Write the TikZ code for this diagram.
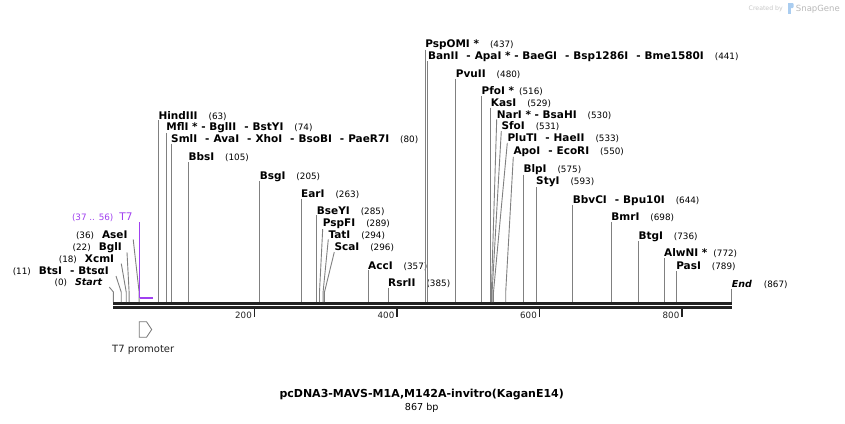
\documentclass[tikz,border=0pt]{standalone}
\usepackage{fontspec}
\setmainfont{DejaVu Sans}
\usetikzlibrary{positioning}

\definecolor{sitegray}{RGB}{128,128,128}
\definecolor{spinegray}{RGB}{34,34,34}
\definecolor{t7purple}{RGB}{160,64,240}
\definecolor{promgray}{RGB}{120,120,120}
\definecolor{markgray}{RGB}{200,200,200}
\definecolor{markblue}{RGB}{170,205,240}

\newcommand{\bpnum}[1]{{\fontsize{8.8}{10}\selectfont(#1)}}
\newcommand{\enz}[2]{\textbf{#1}\hspace{11pt}\bpnum{#2}}
\newcommand{\lenz}[2]{\bpnum{#1}\hspace{8pt}\textbf{#2}}
\newcommand{\dsh}{\hspace{8pt}-\hspace{4pt}}

\begin{document}
\begin{tikzpicture}[
  x=1pt, y=-1pt,
  rlab/.style={anchor=base west, inner sep=0pt, font=\fontsize{10.5}{12}\selectfont},
  llab/.style={anchor=base east, inner sep=0pt, font=\fontsize{10.5}{12}\selectfont},
  site/.style={draw=sitegray, line width=0.9pt},
  spine/.style={draw=spinegray, line width=3pt},
  ruler/.style={draw=spinegray, line width=1.8pt},
  rulerlab/.style={anchor=base east, inner sep=0pt, font=\fontsize{8.7}{10}\selectfont, text=spinegray},
  t7mark/.style={draw=t7purple, line width=1.2pt},
  promo/.style={draw=promgray, line width=0.8pt, fill=white},
]
\useasboundingbox (0,0) rectangle (845,423);
\fill[white] (0,0) rectangle (845,423);

% Backbone (0 .. 867 bp)
\draw[spine] (113.4,303.5) -- (731.7,303.5);
\draw[spine] (113.4,307.7) -- (731.7,307.7);

% Ruler ticks
\draw[ruler] (254.5,309) -- (254.5,316.5);
\draw[ruler] (397,309) -- (397,316.5);
\draw[ruler] (539.5,309) -- (539.5,316.5);
\draw[ruler] (682,309) -- (682,316.5);
\node[rulerlab] (r200) at (252,318) {200};
\node[rulerlab] (r400) at (394.5,318) {400};
\node[rulerlab] (r600) at (537,318) {600};
\node[rulerlab] (r800) at (679.5,318) {800};

% Cut positions on the backbone
\coordinate (p0) at (113.4,302);
\coordinate (p11) at (121.2,302);
\coordinate (p18) at (126.2,302);
\coordinate (p22) at (129.1,302);
\coordinate (p36) at (139.1,302);
\coordinate (p63) at (158.3,302);
\coordinate (p74) at (166.2,302);
\coordinate (p80) at (171,302);
\coordinate (p105) at (188.3,302);
\coordinate (p205) at (259.6,302);
\coordinate (p263) at (301,302);
\coordinate (p285) at (316.7,302);
\coordinate (p289) at (319.5,302);
\coordinate (p294) at (323.1,302);
\coordinate (p296) at (324.5,302);
\coordinate (p357) at (368,302);
\coordinate (p385) at (388,302);
\coordinate (p437) at (425.1,302);
\coordinate (p441) at (427.9,302);
\coordinate (p480) at (455.7,302);
\coordinate (p516) at (481.4,302);
\coordinate (p529) at (490.7,302);
\coordinate (p530) at (491.4,302);
\coordinate (p531) at (492.1,302);
\coordinate (p533) at (493.5,302);
\coordinate (p550) at (505.7,302);
\coordinate (p575) at (523.3,302);
\coordinate (p593) at (536,302);
\coordinate (p644) at (572.7,302);
\coordinate (p698) at (611.2,302);
\coordinate (p736) at (638.3,302);
\coordinate (p772) at (664,302);
\coordinate (p789) at (676.1,302);
\coordinate (p867) at (731.7,302);

% Bends for crowded sites
\coordinate (b0) at (113.4,292);
\coordinate (b11) at (121.2,292);
\coordinate (b18) at (126.2,292);
\coordinate (b22) at (129.1,292);
\coordinate (b36) at (139.1,292);
\coordinate (b289) at (319.5,292);
\coordinate (b294) at (323.1,292);
\coordinate (b296) at (324.5,292);
\coordinate (b530) at (491.4,292);
\coordinate (b531) at (492.1,292);
\coordinate (b533) at (493.5,292);
\coordinate (b550) at (505.7,292);

% Left-hand labels
\node[llab] (start) at (102.3,285.7) {\bpnum{0}\hspace{8pt}{\fontsize{9.5}{12}\selectfont\bfseries\itshape Start}};
\node[llab] (bts) at (109,274.7) {\lenz{11}{BtsI\dsh BtsαI}};
\node[llab] (xcm) at (114.3,262.3) {\lenz{18}{XcmI}};
\node[llab] (bgl) at (122,250) {\lenz{22}{BglI}};
\node[llab] (ase) at (127.7,238) {\lenz{36}{AseI}};

% Right-hand labels, lower group
\node[rlab] (hind) at (158.3,119) {\enz{HindIII}{63}};
\node[rlab] (mfl) at (166.2,130.5) {\enz{MflI * - BglII\dsh BstYI}{74}};
\node[rlab] (sml) at (171,142.3) {\enz{SmlI\dsh AvaI\dsh XhoI\dsh BsoBI\dsh PaeR7I}{80}};
\node[rlab] (bbs) at (188.3,160.7) {\enz{BbsI}{105}};
\node[rlab] (bsg) at (259.6,179) {\enz{BsgI}{205}};
\node[rlab] (ear) at (301,197.3) {\enz{EarI}{263}};
\node[rlab] (bse) at (316.7,214) {\enz{BseYI}{285}};
\node[rlab] (pspf) at (322.7,226.7) {\enz{PspFI}{289}};
\node[rlab] (tat) at (328.3,238) {\enz{TatI}{294}};
\node[rlab] (sca) at (334.3,250.7) {\enz{ScaI}{296}};
\node[rlab] (acc) at (368,269) {\enz{AccI}{357}};
\node[rlab] (rsr) at (388,286.3) {\enz{RsrII}{385}};

% Right-hand labels, upper group
\node[rlab] (pspom) at (425.1,47.3) {\enz{PspOMI *}{437}};
\node[rlab] (ban) at (427.9,59) {\enz{BanII\dsh ApaI * - BaeGI\dsh Bsp1286I\dsh Bme1580I}{441}};
\node[rlab] (pvu) at (455.7,77.3) {\enz{PvuII}{480}};
\node[rlab] (pfo) at (481.4,94.5) {\textbf{PfoI *}\hspace{5pt}\bpnum{516}};
\node[rlab] (kas) at (490.7,106.3) {\enz{KasI}{529}};
\node[rlab] (nar) at (496.7,118) {\enz{NarI * - BsaHI}{530}};
\node[rlab] (sfo) at (501.3,129.7) {\enz{SfoI}{531}};
\node[rlab] (plu) at (507.3,141.5) {\enz{PluTI\dsh HaeII}{533}};
\node[rlab] (apo) at (513.3,154.5) {\enz{ApoI\dsh EcoRI}{550}};
\node[rlab] (blp) at (523.3,172.3) {\enz{BlpI}{575}};
\node[rlab] (sty) at (536,184.3) {\enz{StyI}{593}};
\node[rlab] (bbv) at (572.7,203) {\enz{BbvCI\dsh Bpu10I}{644}};
\node[rlab] (bmr) at (611.2,220.7) {\enz{BmrI}{698}};
\node[rlab] (btg) at (638.3,239) {\enz{BtgI}{736}};
\node[rlab] (alw) at (664,256.7) {\textbf{AlwNI *}\hspace{6pt}\bpnum{772}};
\node[rlab] (pas) at (676.1,269.7) {\enz{PasI}{789}};
\node[rlab] (end) at (731.7,287.3) {{\fontsize{9.5}{12}\selectfont\bfseries\itshape End}\hspace{12pt}\bpnum{867}};

% Site lines
\draw[site] ([xshift=7pt]start.south east) -- (b0) -- (p0);
\draw[site] ([xshift=7pt]bts.south east) -- (b11) -- (p11);
\draw[site] ([xshift=7pt]xcm.south east) -- (b18) -- (p18);
\draw[site] ([xshift=5pt]bgl.south east) -- (b22) -- (p22);
\draw[site] ([xshift=5.5pt]ase.south east) -- (b36) -- (p36);
\draw[site] (hind.south west) -- (p63);
\draw[site] (mfl.south west) -- (p74);
\draw[site] (sml.south west) -- (p80);
\draw[site] (bbs.south west) -- (p105);
\draw[site] (bsg.south west) -- (p205);
\draw[site] (ear.south west) -- (p263);
\draw[site] (bse.south west) -- (p285);
\draw[site] (pspf.south west) -- (b289) -- (p289);
\draw[site] (tat.south west) -- (b294) -- (p294);
\draw[site] (sca.south west) -- (b296) -- (p296);
\draw[site] (acc.south west) -- (p357);
\draw[site] (rsr.south west) -- (p385);
\draw[site] (pspom.south west) -- (p437);
\draw[site] (ban.south west) -- (p441);
\draw[site] (pvu.south west) -- (p480);
\draw[site] (pfo.south west) -- (p516);
\draw[site] (kas.south west) -- (p529);
\draw[site] (nar.south west) -- (b530) -- (p530);
\draw[site] (sfo.south west) -- (b531) -- (p531);
\draw[site] (plu.south west) -- (b533) -- (p533);
\draw[site] (apo.south west) -- (b550) -- (p550);
\draw[site] (blp.south west) -- (p575);
\draw[site] (sty.south west) -- (p593);
\draw[site] (bbv.south west) -- (p644);
\draw[site] (bmr.south west) -- (p698);
\draw[site] (btg.south west) -- (p736);
\draw[site] (alw.south west) -- (p772);
\draw[site] (pas.south west) -- (p789);
\draw[site] (end.south west) -- (p867);

% T7 primer site (37 .. 56)
\coordinate (t7a) at (139.8,298.3);
\coordinate (t7b) at (153.3,298.3);
\coordinate (t7top) at (139.8,222);
\node[llab, text=t7purple] (t7lab) at (132.7,220) {\bpnum{37 .. 56}\hspace{6pt}{\fontsize{10.5}{12}\selectfont T7}};
\draw[t7mark, line width=2pt] (t7a) -- (t7b);
\draw[t7mark] (t7top) -- (t7a);

% T7 promoter feature
\draw[promo] (139.3,321.7) -- (146.5,321.7) -- (151.7,329.5) -- (146.5,337.3) -- (139.3,337.3) -- cycle;
\coordinate (prom) at (143.2,337.3);
\node[below=8pt of prom, inner sep=0pt, font=\fontsize{10}{12}\selectfont, text=spinegray] (promlab) {T7 promoter};

% Title
\node[inner sep=0pt, font=\fontsize{11}{13}\selectfont\bfseries] (title) at (421.7,395) {pcDNA3-MAVS-M1A,M142A-invitro(KaganE14)};
\node[below=2pt of title, inner sep=0pt, font=\fontsize{9.6}{11}\selectfont] (size) {867 bp};

% Watermark
\node[anchor=base east, inner sep=0pt, text=markgray!80!gray, font=\fontsize{8.5}{10}\selectfont] (sg) at (840,11) {SnapGene};
\fill[markblue] (788,3) rectangle (790.6,13.5);
\fill[markblue, rounded corners=1pt] (788,3) rectangle (793.5,8);
\node[anchor=base east, inner sep=0pt, text=markgray, font=\fontsize{6.2}{8}\selectfont] (cby) at (783,10.5) {Created by};

\end{tikzpicture}
\end{document}
